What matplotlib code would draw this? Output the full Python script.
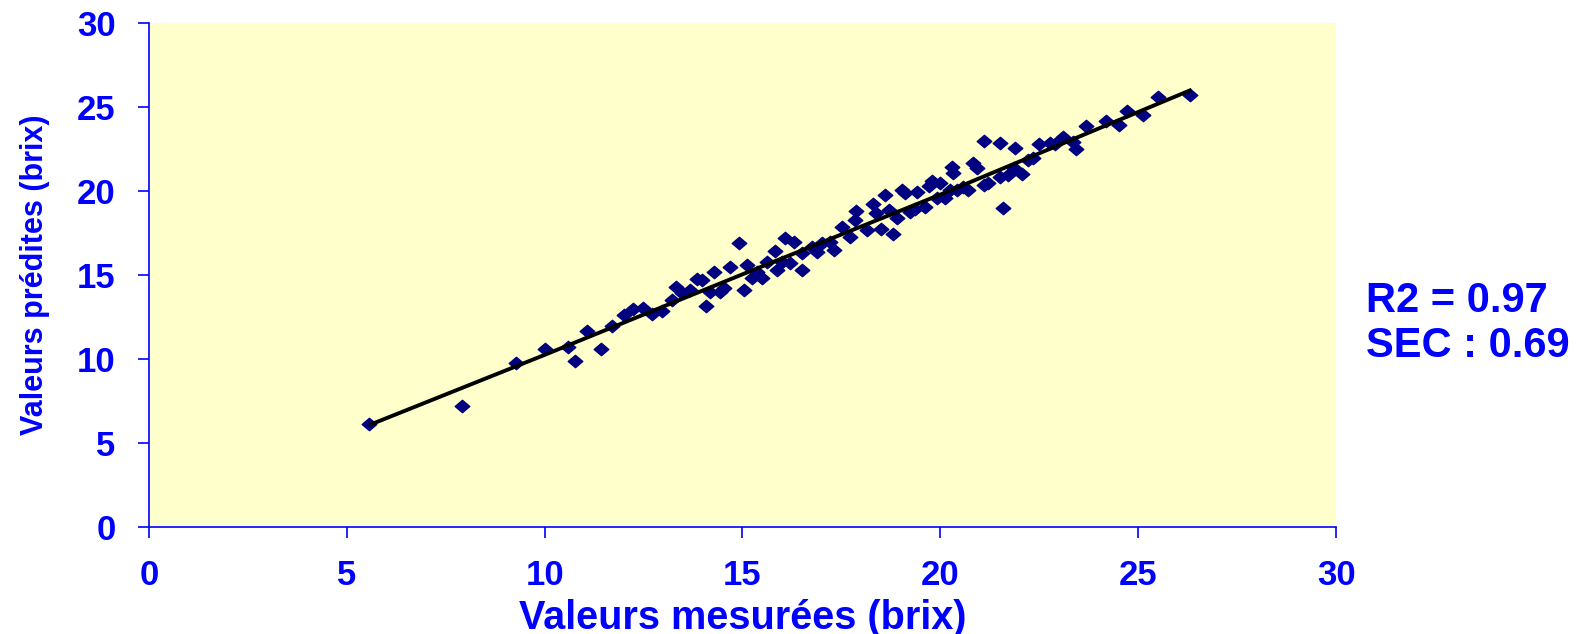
import numpy as np
import matplotlib
matplotlib.use("Agg")
import matplotlib.pyplot as plt
from matplotlib.path import Path

mesurees = [5.57, 7.91, 9.28, 10.01, 10.59, 10.78, 11.08, 11.42, 11.70, 12.00,
            12.24, 12.48, 12.71, 12.96, 13.21, 13.32, 13.47, 13.68, 13.85, 13.97,
            14.08, 14.18, 14.28, 14.43, 14.53, 14.69, 14.90, 15.04, 15.11, 15.23,
            15.36, 15.49, 15.61, 15.82, 15.87, 15.99, 16.08, 16.20, 16.29, 16.50,
            16.50, 16.75, 16.88, 17.00, 17.21, 17.30, 17.51, 17.72, 17.85, 17.87,
            18.14, 18.29, 18.38, 18.49, 18.60, 18.69, 18.81, 18.91, 19.02, 19.11,
            19.23, 19.36, 19.40, 19.61, 19.70, 19.78, 19.91, 19.99, 20.12, 20.24,
            20.29, 20.31, 20.41, 20.58, 20.71, 20.82, 20.92, 21.09, 21.11, 21.21,
            21.51, 21.51, 21.57, 21.72, 21.85, 21.89, 22.06, 22.22, 22.35, 22.50,
            22.77, 22.90, 23.11, 23.36, 23.43, 23.68, 24.19, 24.50, 24.72, 25.13,
            25.51, 26.31]
predites = [6.13, 7.21, 9.75, 10.60, 10.70, 9.90, 11.69, 10.62, 11.97, 12.63,
            12.97, 13.03, 12.67, 12.88, 13.52, 14.31, 13.92, 14.12, 14.75, 14.71,
            13.16, 14.01, 15.20, 14.01, 14.21, 15.50, 16.93, 14.12, 15.60, 14.81,
            15.20, 14.81, 15.80, 16.46, 15.31, 15.80, 17.19, 15.71, 16.99, 15.31,
            16.30, 16.69, 16.40, 16.90, 16.95, 16.50, 17.89, 17.25, 18.28, 18.82,
            17.69, 19.22, 18.68, 17.73, 19.77, 18.88, 17.43, 18.39, 20.07, 19.87,
            18.78, 18.92, 19.97, 19.04, 20.31, 20.63, 19.58, 20.47, 19.58, 20.07,
            21.46, 21.10, 20.07, 20.27, 20.07, 21.66, 21.36, 20.37, 23.01, 20.51,
            22.85, 20.86, 18.98, 20.96, 21.36, 22.59, 21.00, 21.86, 21.96, 22.81,
            22.85, 22.81, 23.25, 22.95, 22.50, 23.88, 24.20, 23.94, 24.78, 24.54,
            25.63, 25.73]

# trend line
ligne_x = [5.6, 10.0, 15.0, 20.0, 26.3]
ligne_y = [6.1, 10.25, 15.05, 19.8, 26.0]

ticks = [0, 5, 10, 15, 20, 25, 30]

bleu = "#0000FF"
font = "Liberation Sans"

fig = plt.figure(figsize=(15.86, 6.34), dpi=100)
ax = fig.add_axes([0.0938, 0.1688, 0.7487, 0.7944])
ax.set_facecolor("#FFFFCC")

losange = Path([(-1, 0), (0, 0.85), (1, 0), (0, -0.85), (-1, 0)],
               [Path.MOVETO, Path.LINETO, Path.LINETO, Path.LINETO, Path.CLOSEPOLY])
ax.plot(mesurees, predites, linestyle="none", marker=losange, markersize=10.5,
        color="#000080", zorder=3)
ax.plot(ligne_x, ligne_y, color="black", linewidth=2.8, zorder=4)

ax.set_xlim(0, 30)
ax.set_ylim(0, 30)
ax.set_xticks(ticks)
ax.set_yticks(ticks)

for s in ["top", "right"]:
    ax.spines[s].set_visible(False)
for s in ["left", "bottom"]:
    ax.spines[s].set_color(bleu)
    ax.spines[s].set_linewidth(1.2)

ax.tick_params(axis="both", direction="out", length=8, width=1.2, color=bleu,
               labelcolor=bleu, labelsize=25)
ax.tick_params(axis="x", pad=15)
ax.tick_params(axis="y", pad=16)
for lab in ax.get_xticklabels() + ax.get_yticklabels():
    lab.set_fontfamily(font)
    lab.set_fontweight("bold")

ax.set_xlabel("Valeurs mesurées (brix)", fontsize=28.5, fontweight="bold",
              color=bleu, family=font, labelpad=5)
ax.set_ylabel("Valeurs prédites (brix)", fontsize=22, fontweight="bold",
              color=bleu, family=font, labelpad=19)

fig.text(0.861, 0.508, "R2 = 0.97", fontsize=30, fontweight="bold",
         color=bleu, family=font, va="baseline")
fig.text(0.861, 0.437, "SEC : 0.69", fontsize=30, fontweight="bold",
         color=bleu, family=font, va="baseline")

fig.savefig("out.png", dpi=100)
